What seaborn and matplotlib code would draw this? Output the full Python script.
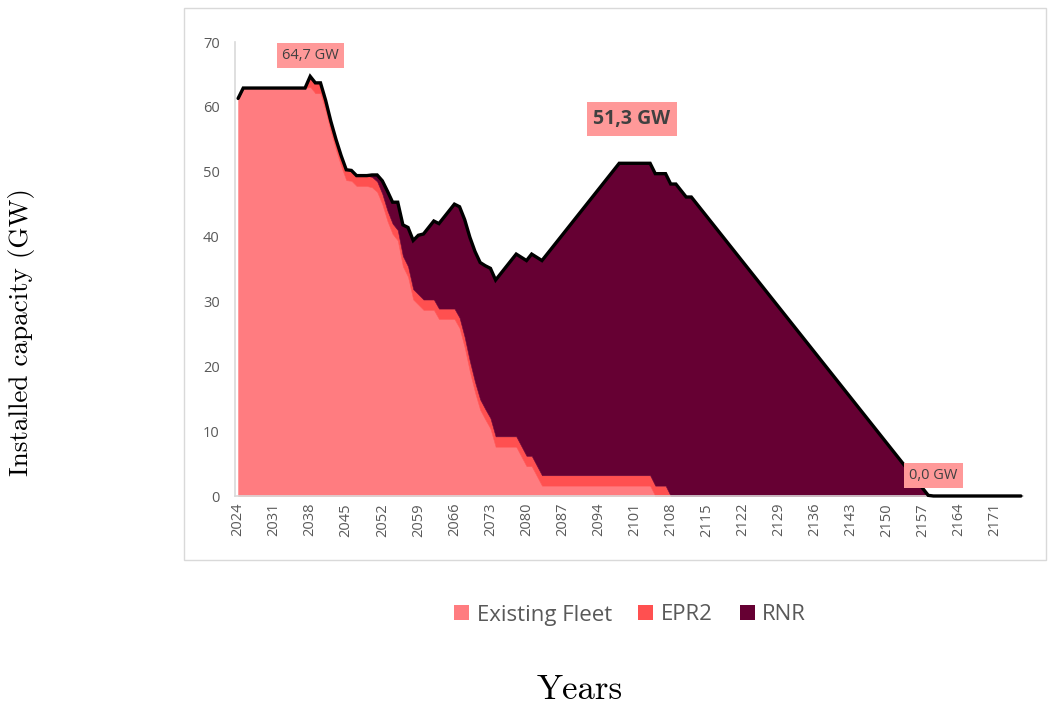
import matplotlib
matplotlib.use("Agg")
import matplotlib.pyplot as plt
from matplotlib.patches import Rectangle, Patch
import numpy as np
import pandas as pd
import seaborn as sns

# ---- data (GW installed per year) ----
years = list(range(2024, 2177))

existing_fleet = (
    [61.3] + [62.9] * 13
    + [63.1, 62.1, 62.1, 59.4, 56.2, 53.4, 50.9, 48.7, 48.6, 47.8, 47.8, 47.8]
    + [47.6, 46.9, 45.0, 42.4, 40.4, 39.4, 35.4, 33.8, 30.3]
    + [29.5, 28.7, 28.7, 28.7, 27.3, 27.3, 27.3, 27.3, 25.9, 22.9, 19.2, 16.0,
       13.3, 11.8, 10.4, 7.6, 7.6, 7.6, 7.6, 7.6, 6.1, 4.6, 4.6, 3.1]
    + [1.6] * 22 + [0.0] * 72
)

epr2 = [0.0] * 14 + [1.6] * 70 + [0.0] * 69

rnr = (
    [0.0] * 26
    + [0.3, 1.0, 2.0, 3.0, 3.3, 4.3, 4.8, 6.0, 7.5]
    + [9.1, 10.1, 11.1, 12.1, 13.1, 14.1, 15.1, 16.1, 17.1, 18.1,
       19.1, 20.1, 21.1, 22.1, 23.1, 24.1, 25.1, 26.1, 27.1, 28.1,
       29.1, 30.1, 31.1, 32.1, 33.1, 34.1, 35.1, 36.1, 37.1, 38.1,
       39.1, 40.1, 41.1, 42.1, 43.1, 44.1, 45.1, 46.1, 47.1, 48.1]
    + [48.1] * 11
    + [47.1, 46.1, 46.1]
    + [45.1, 44.1, 43.1, 42.1, 41.1, 40.1, 39.1, 38.1, 37.1, 36.1,
       35.1, 34.1, 33.1, 32.1, 31.1, 30.1, 29.1, 28.1, 27.1, 26.1,
       25.1, 24.1, 23.1, 22.1, 21.1, 20.1, 19.1, 18.1, 17.1, 16.1,
       15.1, 14.1, 13.1, 12.1, 11.1, 10.1, 9.1, 8.1, 7.1, 6.1,
       5.1, 4.1, 3.1, 2.1, 1.1, 0.1]
    + [0.0] * 18
)

series_names = ["Existing Fleet", "EPR2", "RNR"]
series_colors = ["#FF7C80", "#FF5050", "#660033"]

tick_years = list(range(2024, 2172, 7))
y_ticks = [0, 10, 20, 30, 40, 50, 60, 70]

# value labels: (year, text, bold)
callouts = [(2038, "64,7 GW", False), (2101, "51,3 GW", True), (2159, "0,0 GW", False)]

df = pd.DataFrame({"year": years, "Existing Fleet": existing_fleet,
                   "EPR2": epr2, "RNR": rnr})
df["total"] = df[series_names].sum(axis=1)

# ---- figure ----
sns.set_theme(style="white")
plt.rcParams["font.family"] = ["Open Sans", "DejaVu Sans"]

W, H = 1057, 706
fig = plt.figure(figsize=(W / 100, H / 100), dpi=100)
ax = fig.add_axes([235 / W, 1 - 496 / H, 788 / W, 454 / H])

ax.stackplot(df["year"], *[df[n] for n in series_names],
             colors=series_colors, labels=series_names,
             linewidth=0.4, edgecolor="face")
sns.lineplot(data=df, x="year", y="total", color="black", linewidth=2.4,
             ax=ax, clip_on=False, legend=False, zorder=4)
for line in ax.lines:
    line.set_solid_joinstyle("miter")

ax.set_xlim(2023.4, 2176.4)
ax.set_ylim(0, 70)
ax.set_xticks(tick_years)
ax.set_xticklabels([str(y) for y in tick_years], rotation=90)
ax.set_yticks(y_ticks)
ax.tick_params(axis="both", length=0, colors="#595959")
ax.tick_params(axis="x", pad=5, labelsize=10.5)
ax.tick_params(axis="y", pad=11, labelsize=10.5)
ax.set_xlabel("")
ax.set_ylabel("")
for side in ["top", "right"]:
    ax.spines[side].set_visible(False)
for side in ["left", "bottom"]:
    ax.spines[side].set_color("#D9D9D9")
    ax.spines[side].set_linewidth(1.2)
    ax.spines[side].set_zorder(1)

# value call-outs on the total line
totals = dict(zip(df["year"], df["total"]))
for yr, txt, bold in callouts:
    offset = (-2, 32) if bold else (0, 15)
    ax.annotate(txt, xy=(yr, totals[yr]), xytext=offset,
                textcoords="offset points", ha="center", va="center",
                fontsize=14 if bold else 10.5,
                fontweight="bold" if bold else "normal", color="#404040",
                bbox=dict(boxstyle="square,pad=0.35", fc="#FF9999", ec="none"),
                annotation_clip=False, zorder=5)

# chart frame
fig.patches.append(Rectangle((184 / W, 1 - 560 / H), (1046 - 184) / W, (560 - 8) / H,
                             transform=fig.transFigure, fill=False,
                             edgecolor="#D9D9D9", linewidth=1.0))

# legend
handles = [Patch(facecolor=c, edgecolor="none") for c in series_colors]
fig.legend(handles, series_names, loc="center", bbox_to_anchor=(630 / W, 1 - 615 / H),
           ncol=3, frameon=False, fontsize=16, handlelength=0.67, handleheight=0.67,
           handletextpad=0.35, columnspacing=1.2, labelcolor="#595959")

# axis titles
fig.text(22 / W, 1 - 332 / H, "Installed capacity (GW)", rotation=90,
         ha="center", va="center", fontsize=19.5, family="cmr10", color="black")
fig.text(580 / W, 1 - 690 / H, "Years", ha="center", va="center",
         fontsize=25, family="cmr10", color="black")

fig.savefig("out.png", dpi=100)
